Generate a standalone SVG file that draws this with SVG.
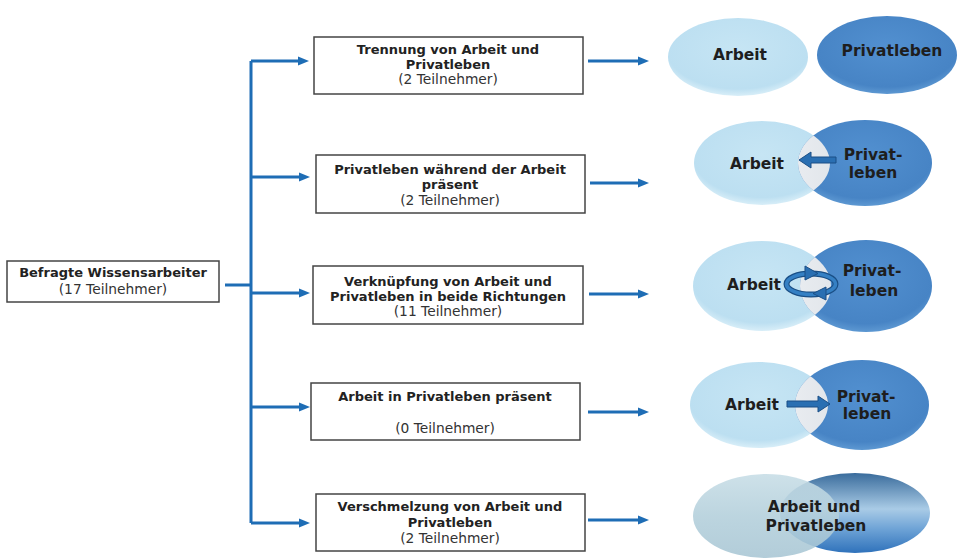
<svg xmlns="http://www.w3.org/2000/svg" width="957" height="559" viewBox="0 0 957 559">
<style>
.box{fill:#fff;stroke:#444;stroke-width:1.5}
.tb{font-family:"DejaVu Sans","Verdana",sans-serif;font-weight:bold;font-size:13px;fill:#222;text-anchor:middle}
.tr{font-family:"DejaVu Sans","Verdana",sans-serif;font-size:13.8px;fill:#333;text-anchor:middle}
.te{font-family:"DejaVu Sans","Verdana",sans-serif;font-weight:bold;font-size:15.5px;fill:#1e1e1e;text-anchor:middle}
.con{fill:none;stroke:#1e6db5;stroke-width:3}
.light{fill:url(#gLight)}
.dark{fill:url(#gDark)}
.lens{fill:url(#gLens)}
.inarrow{fill:#2a6fb2;stroke:#1a4f86;stroke-width:1}
.ringo{fill:none;stroke:#1a4f86;stroke-width:6}
.ringi{fill:none;stroke:#3580c4;stroke-width:3.6}
</style>
<defs>
<marker id="ah" markerUnits="userSpaceOnUse" markerWidth="12" markerHeight="10" refX="1" refY="5" orient="auto">
<path d="M0,0.5 L11,5 L0,9.5 z" fill="#1e6db5"/>
</marker>
<radialGradient id="gLight" cx="50%" cy="40%" r="60%">
<stop offset="0" stop-color="#c6e5f4"/>
<stop offset="0.85" stop-color="#bcdff1"/>
<stop offset="1" stop-color="#d8eef8"/>
</radialGradient>
<radialGradient id="gDark" cx="50%" cy="40%" r="60%">
<stop offset="0" stop-color="#5290d0"/>
<stop offset="0.85" stop-color="#4784c5"/>
<stop offset="1" stop-color="#5d98d2"/>
</radialGradient>
<linearGradient id="gLens" x1="0" y1="0" x2="1" y2="0">
<stop offset="0" stop-color="#cdd1d8"/>
<stop offset="0.5" stop-color="#f0f2f5"/>
<stop offset="1" stop-color="#e2e6eb"/>
</linearGradient>
<linearGradient id="gMergeL" x1="0" y1="0" x2="0" y2="1">
<stop offset="0" stop-color="#c7dde6"/>
<stop offset="0.5" stop-color="#b3cfdb"/>
<stop offset="1" stop-color="#a8c6d4"/>
</linearGradient>
<linearGradient id="gMergeR" x1="0" y1="0" x2="0" y2="1">
<stop offset="0" stop-color="#3a6c9c"/>
<stop offset="0.45" stop-color="#a9cbe6"/>
<stop offset="0.7" stop-color="#6ea3d6"/>
<stop offset="1" stop-color="#2f72bb"/>
</linearGradient>
<clipPath id="c2"><ellipse cx="865" cy="163" rx="67" ry="43"/></clipPath>
<clipPath id="c3"><ellipse cx="866" cy="286" rx="66" ry="46"/></clipPath>
<clipPath id="c4"><ellipse cx="862" cy="405" rx="67" ry="45"/></clipPath>
</defs>

<g id="connectors">
<path class="con" d="M225,285 H251"/>
<path class="con" d="M251,61 V523"/>
<path class="con" d="M251,61 H299" marker-end="url(#ah)"/>
<path class="con" d="M251,177 H300" marker-end="url(#ah)"/>
<path class="con" d="M251,293 H300" marker-end="url(#ah)"/>
<path class="con" d="M251,407 H300" marker-end="url(#ah)"/>
<path class="con" d="M251,523 H300" marker-end="url(#ah)"/>
<path class="con" d="M588,61 H639" marker-end="url(#ah)"/>
<path class="con" d="M590,183 H639" marker-end="url(#ah)"/>
<path class="con" d="M589,294 H639" marker-end="url(#ah)"/>
<path class="con" d="M588,412 H639" marker-end="url(#ah)"/>
<path class="con" d="M588,520 H639" marker-end="url(#ah)"/>
</g>

<g id="n0">
<rect class="box" x="7" y="261" width="212" height="41"/>
<text class="tb" x="113" y="277">Befragte Wissensarbeiter</text>
<text class="tr" x="113" y="294">(17 Teilnehmer)</text>
</g>

<g id="n1">
<rect class="box" x="314" y="37" width="269" height="57"/>
<text class="tb" x="448" y="54">Trennung von Arbeit und</text>
<text class="tb" x="448" y="69">Privatleben</text>
<text class="tr" x="448" y="84">(2 Teilnehmer)</text>
</g>

<g id="n2">
<rect class="box" x="316" y="155" width="269" height="58"/>
<text class="tb" x="450" y="174">Privatleben während der Arbeit</text>
<text class="tb" x="450" y="189">präsent</text>
<text class="tr" x="450" y="205">(2 Teilnehmer)</text>
</g>

<g id="n3">
<rect class="box" x="313" y="266" width="270" height="58"/>
<text class="tb" x="448" y="286">Verknüpfung von Arbeit und</text>
<text class="tb" x="448" y="301">Privatleben in beide Richtungen</text>
<text class="tr" x="448" y="316">(11 Teilnehmer)</text>
</g>

<g id="n4">
<rect class="box" x="311" y="383" width="269" height="57"/>
<text class="tb" x="445" y="401">Arbeit in Privatleben präsent</text>
<text class="tr" x="445" y="433">(0 Teilnehmer)</text>
</g>

<g id="n5">
<rect class="box" x="316" y="494" width="269" height="57"/>
<text class="tb" x="450" y="511">Verschmelzung von Arbeit und</text>
<text class="tb" x="450" y="527">Privatleben</text>
<text class="tr" x="450" y="543">(2 Teilnehmer)</text>
</g>

<g id="v1">
<ellipse class="light" cx="738" cy="57" rx="70" ry="39"/>
<ellipse class="dark" cx="887" cy="55" rx="70" ry="39"/>
<text class="te" x="740" y="60">Arbeit</text>
<text class="te" x="892" y="56">Privatleben</text>
</g>

<g id="v2">
<ellipse class="light" cx="762" cy="163" rx="68" ry="42"/>
<ellipse class="dark" cx="865" cy="163" rx="67" ry="43"/>
<ellipse class="lens" cx="762" cy="163" rx="68" ry="42" clip-path="url(#c2)"/>
<path class="inarrow" d="M836,157 H811 V152 L799,160 L811,168 V163 H836 z"/>
<text class="te" x="757" y="169">Arbeit</text>
<text class="te" x="873" y="160">Privat-</text>
<text class="te" x="873" y="178">leben</text>
</g>

<g id="v3">
<ellipse class="light" cx="762" cy="286" rx="69" ry="45"/>
<ellipse class="dark" cx="866" cy="286" rx="66" ry="46"/>
<ellipse class="lens" cx="762" cy="286" rx="69" ry="45" clip-path="url(#c3)"/>
<ellipse class="ringo" cx="811" cy="284" rx="24.5" ry="10.5"/>
<ellipse class="ringi" cx="811" cy="284" rx="24.5" ry="10.5"/>
<path class="inarrow" d="M805,266 L818,273.5 L805,280 z"/>
<path class="inarrow" d="M826,287 L813,293.5 L826,300 z"/>
<text class="te" x="754" y="290">Arbeit</text>
<text class="te" x="872" y="276">Privat-</text>
<text class="te" x="874" y="296">leben</text>
</g>

<g id="v4">
<ellipse class="light" cx="759" cy="405" rx="69" ry="43"/>
<ellipse class="dark" cx="862" cy="405" rx="67" ry="45"/>
<ellipse class="lens" cx="759" cy="405" rx="69" ry="43" clip-path="url(#c4)"/>
<path class="inarrow" d="M787,401 H818 V396 L830,404 L818,412 V407 H787 z"/>
<text class="te" x="752" y="410">Arbeit</text>
<text class="te" x="866" y="402">Privat-</text>
<text class="te" x="867" y="419">leben</text>
</g>

<g id="v5">
<ellipse cx="855" cy="513" rx="75" ry="40" fill="url(#gMergeR)"/>
<ellipse cx="766" cy="516" rx="73" ry="42" fill="url(#gMergeL)" opacity="0.88"/>
<text class="te" x="814" y="512">Arbeit und</text>
<text class="te" x="816" y="531">Privatleben</text>
</g>
</svg>
